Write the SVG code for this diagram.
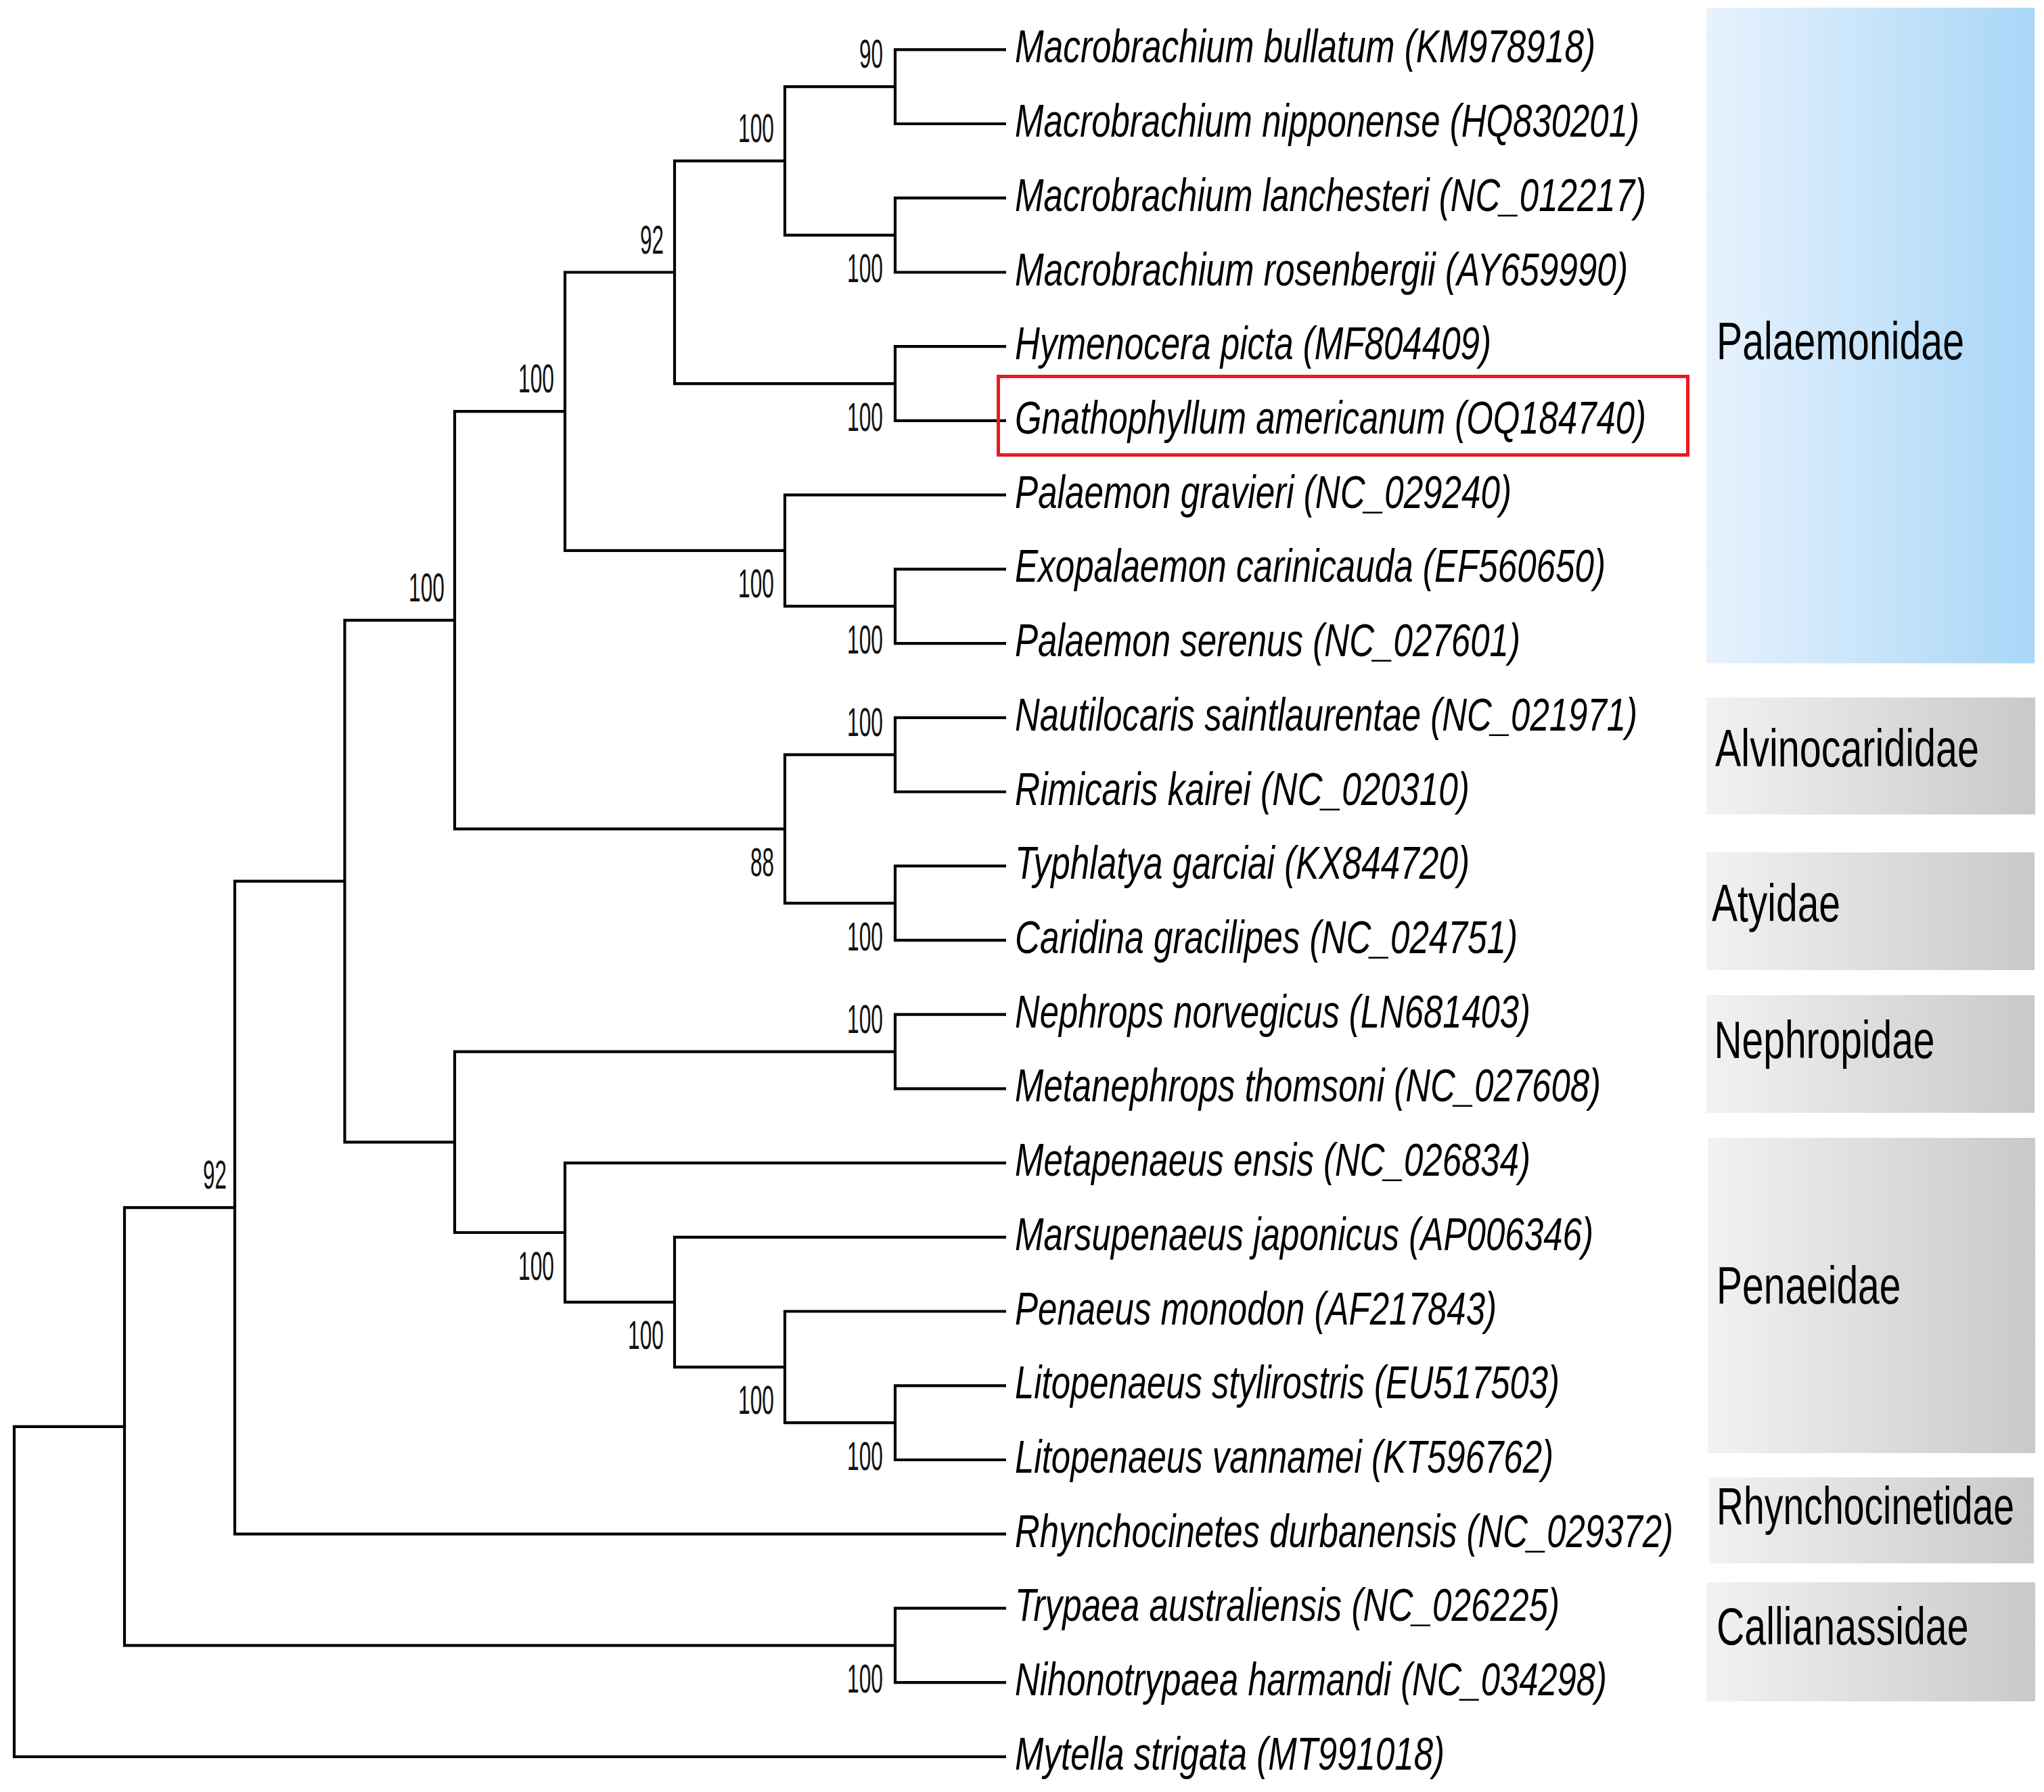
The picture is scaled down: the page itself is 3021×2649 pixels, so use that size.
<svg xmlns="http://www.w3.org/2000/svg" width="3021" height="2649" viewBox="0 0 3021 2649">
<defs>
<linearGradient id="gBlue" x1="0" y1="0" x2="1" y2="0">
<stop offset="0" stop-color="#e7f2fd"/>
<stop offset="1" stop-color="#a9d6f7"/>
</linearGradient>
<linearGradient id="gGray" x1="0" y1="0" x2="1" y2="0">
<stop offset="0" stop-color="#f2f2f2"/>
<stop offset="1" stop-color="#c9c9c9"/>
</linearGradient>
<style>
.br{fill:none;stroke:#000;stroke-width:4.2;stroke-linejoin:miter;stroke-linecap:butt}
.tx{font-family:"Liberation Sans",Arial,sans-serif;font-style:italic;font-size:51px;fill:#000}
.bs{font-family:"Liberation Sans",Arial,sans-serif;font-size:32px;fill:#111;text-anchor:end}
.fam{font-family:"Liberation Sans",Arial,sans-serif;font-size:57px;fill:#000}
.hl{fill:none;stroke:#ea1a20;stroke-width:5}
</style>
</defs>
<rect width="3021" height="2649" fill="#fff"/>

<g id="connectors">
<path class="br" d="M184 2108.8 H21 V2596.9 H1487"/>
<path class="br" d="M347 1785.2 H184 V2432.3 H1323"/>
<path class="br" d="M509.5 1302.6 H347 V2267.7 H1487"/>
<path class="br" d="M672 916.8 H509.5 V1688.3 H672"/>
<path class="br" d="M835 608.2 H672 V1225.4 H1160"/>
<path class="br" d="M997 402.5 H835 V813.9 H1160"/>
<path class="br" d="M1160 237.9 H997 V567.1 H1323"/>
<path class="br" d="M1323 128.2 H1160 V347.6 H1323"/>
<path class="br" d="M1487 73.3 H1323 V183.0 H1487"/>
<path class="br" d="M1487 292.7 H1323 V402.5 H1487"/>
<path class="br" d="M1487 512.2 H1323 V621.9 H1487"/>
<path class="br" d="M1487 731.6 H1160 V896.2 H1323"/>
<path class="br" d="M1487 841.3 H1323 V951.1 H1487"/>
<path class="br" d="M1323 1115.7 H1160 V1335.1 H1323"/>
<path class="br" d="M1487 1060.8 H1323 V1170.5 H1487"/>
<path class="br" d="M1487 1280.2 H1323 V1389.9 H1487"/>
<path class="br" d="M1323 1554.6 H672 V1822.0 H835"/>
<path class="br" d="M1487 1499.7 H1323 V1609.4 H1487"/>
<path class="br" d="M1487 1719.1 H835 V1924.9 H997"/>
<path class="br" d="M1487 1828.8 H997 V2020.9 H1160"/>
<path class="br" d="M1487 1938.5 H1160 V2103.2 H1323"/>
<path class="br" d="M1487 2048.3 H1323 V2158.0 H1487"/>
<path class="br" d="M1487 2377.4 H1323 V2487.1 H1487"/>
</g>

<g id="bootstrap">
<text class="bs" transform="translate(1305 100.2) scale(1 1.83)" textLength="35" lengthAdjust="spacingAndGlyphs">90</text>
<text class="bs" transform="translate(1144 209.9) scale(1 1.83)" textLength="53" lengthAdjust="spacingAndGlyphs">100</text>
<text class="bs" transform="translate(1305 417.1) scale(1 1.83)" textLength="53" lengthAdjust="spacingAndGlyphs">100</text>
<text class="bs" transform="translate(981 374.5) scale(1 1.83)" textLength="35" lengthAdjust="spacingAndGlyphs">92</text>
<text class="bs" transform="translate(1305 636.6) scale(1 1.83)" textLength="53" lengthAdjust="spacingAndGlyphs">100</text>
<text class="bs" transform="translate(819 580.2) scale(1 1.83)" textLength="53" lengthAdjust="spacingAndGlyphs">100</text>
<text class="bs" transform="translate(1144 883.4) scale(1 1.83)" textLength="53" lengthAdjust="spacingAndGlyphs">100</text>
<text class="bs" transform="translate(1305 965.7) scale(1 1.83)" textLength="53" lengthAdjust="spacingAndGlyphs">100</text>
<text class="bs" transform="translate(657 888.8) scale(1 1.83)" textLength="53" lengthAdjust="spacingAndGlyphs">100</text>
<text class="bs" transform="translate(1305 1087.7) scale(1 1.83)" textLength="53" lengthAdjust="spacingAndGlyphs">100</text>
<text class="bs" transform="translate(1305 1404.6) scale(1 1.83)" textLength="53" lengthAdjust="spacingAndGlyphs">100</text>
<text class="bs" transform="translate(1144 1294.9) scale(1 1.83)" textLength="35" lengthAdjust="spacingAndGlyphs">88</text>
<text class="bs" transform="translate(1305 1526.6) scale(1 1.83)" textLength="53" lengthAdjust="spacingAndGlyphs">100</text>
<text class="bs" transform="translate(819 1891.5) scale(1 1.83)" textLength="53" lengthAdjust="spacingAndGlyphs">100</text>
<text class="bs" transform="translate(981 1994.4) scale(1 1.83)" textLength="53" lengthAdjust="spacingAndGlyphs">100</text>
<text class="bs" transform="translate(1144 2090.4) scale(1 1.83)" textLength="53" lengthAdjust="spacingAndGlyphs">100</text>
<text class="bs" transform="translate(1305 2172.7) scale(1 1.83)" textLength="53" lengthAdjust="spacingAndGlyphs">100</text>
<text class="bs" transform="translate(335 1757.2) scale(1 1.83)" textLength="35" lengthAdjust="spacingAndGlyphs">92</text>
<text class="bs" transform="translate(1305 2501.8) scale(1 1.83)" textLength="53" lengthAdjust="spacingAndGlyphs">100</text>
</g>

<g id="taxa">
<g id="t1"><text class="tx" transform="translate(1500 92.3) scale(1 1.34)" textLength="858" lengthAdjust="spacingAndGlyphs">Macrobrachium bullatum (KM978918)</text></g>
<g id="t2"><text class="tx" transform="translate(1500 202.0) scale(1 1.34)" textLength="923" lengthAdjust="spacingAndGlyphs">Macrobrachium nipponense (HQ830201)</text></g>
<g id="t3"><text class="tx" transform="translate(1500 311.7) scale(1 1.34)" textLength="933" lengthAdjust="spacingAndGlyphs">Macrobrachium lanchesteri (NC_012217)</text></g>
<g id="t4"><text class="tx" transform="translate(1500 421.5) scale(1 1.34)" textLength="906" lengthAdjust="spacingAndGlyphs">Macrobrachium rosenbergii (AY659990)</text></g>
<g id="t5"><text class="tx" transform="translate(1500 531.2) scale(1 1.34)" textLength="704" lengthAdjust="spacingAndGlyphs">Hymenocera picta (MF804409)</text></g>
<g id="t6"><text class="tx" transform="translate(1500 640.9) scale(1 1.34)" textLength="933" lengthAdjust="spacingAndGlyphs">Gnathophyllum americanum (OQ184740)</text>
<rect class="hl" x="1475.5" y="556.5" width="1019" height="116"/></g>
<g id="t7"><text class="tx" transform="translate(1500 750.6) scale(1 1.34)" textLength="734" lengthAdjust="spacingAndGlyphs">Palaemon gravieri (NC_029240)</text></g>
<g id="t8"><text class="tx" transform="translate(1500 860.3) scale(1 1.34)" textLength="873" lengthAdjust="spacingAndGlyphs">Exopalaemon carinicauda (EF560650)</text></g>
<g id="t9"><text class="tx" transform="translate(1500 970.1) scale(1 1.34)" textLength="747" lengthAdjust="spacingAndGlyphs">Palaemon serenus (NC_027601)</text></g>
<g id="t10"><text class="tx" transform="translate(1500 1079.8) scale(1 1.34)" textLength="920" lengthAdjust="spacingAndGlyphs">Nautilocaris saintlaurentae (NC_021971)</text></g>
<g id="t11"><text class="tx" transform="translate(1500 1189.5) scale(1 1.34)" textLength="672" lengthAdjust="spacingAndGlyphs">Rimicaris kairei (NC_020310)</text></g>
<g id="t12"><text class="tx" transform="translate(1500 1299.2) scale(1 1.34)" textLength="672" lengthAdjust="spacingAndGlyphs">Typhlatya garciai (KX844720)</text></g>
<g id="t13"><text class="tx" transform="translate(1500 1408.9) scale(1 1.34)" textLength="743" lengthAdjust="spacingAndGlyphs">Caridina gracilipes (NC_024751)</text></g>
<g id="t14"><text class="tx" transform="translate(1500 1518.7) scale(1 1.34)" textLength="762" lengthAdjust="spacingAndGlyphs">Nephrops norvegicus (LN681403)</text></g>
<g id="t15"><text class="tx" transform="translate(1500 1628.4) scale(1 1.34)" textLength="866" lengthAdjust="spacingAndGlyphs">Metanephrops thomsoni (NC_027608)</text></g>
<g id="t16"><text class="tx" transform="translate(1500 1738.1) scale(1 1.34)" textLength="762" lengthAdjust="spacingAndGlyphs">Metapenaeus ensis (NC_026834)</text></g>
<g id="t17"><text class="tx" transform="translate(1500 1847.8) scale(1 1.34)" textLength="855" lengthAdjust="spacingAndGlyphs">Marsupenaeus japonicus (AP006346)</text></g>
<g id="t18"><text class="tx" transform="translate(1500 1957.5) scale(1 1.34)" textLength="712" lengthAdjust="spacingAndGlyphs">Penaeus monodon (AF217843)</text></g>
<g id="t19"><text class="tx" transform="translate(1500 2067.3) scale(1 1.34)" textLength="805" lengthAdjust="spacingAndGlyphs">Litopenaeus stylirostris (EU517503)</text></g>
<g id="t20"><text class="tx" transform="translate(1500 2177.0) scale(1 1.34)" textLength="796" lengthAdjust="spacingAndGlyphs">Litopenaeus vannamei (KT596762)</text></g>
<g id="t21"><text class="tx" transform="translate(1500 2286.7) scale(1 1.34)" textLength="973" lengthAdjust="spacingAndGlyphs">Rhynchocinetes durbanensis (NC_029372)</text></g>
<g id="t22"><text class="tx" transform="translate(1500 2396.4) scale(1 1.34)" textLength="805" lengthAdjust="spacingAndGlyphs">Trypaea australiensis (NC_026225)</text></g>
<g id="t23"><text class="tx" transform="translate(1500 2506.1) scale(1 1.34)" textLength="875" lengthAdjust="spacingAndGlyphs">Nihonotrypaea harmandi (NC_034298)</text></g>
<g id="t24"><text class="tx" transform="translate(1500 2615.9) scale(1 1.34)" textLength="635" lengthAdjust="spacingAndGlyphs">Mytella strigata (MT991018)</text></g>
</g>

<g id="families">
<g id="f-palaemonidae"><rect x="2522" y="11.5" width="485" height="969" fill="url(#gBlue)"/>
<text class="fam" transform="translate(2537 530.6) scale(1 1.36)" textLength="366" lengthAdjust="spacingAndGlyphs">Palaemonidae</text></g>
<g id="f-alvinocarididae"><rect x="2522" y="1031" width="486" height="173" fill="url(#gGray)"/>
<text class="fam" transform="translate(2535 1132.7) scale(1 1.36)" textLength="390" lengthAdjust="spacingAndGlyphs">Alvinocarididae</text></g>
<g id="f-atyidae"><rect x="2522" y="1260" width="485" height="174" fill="url(#gGray)"/>
<text class="fam" transform="translate(2530 1362) scale(1 1.36)" textLength="190" lengthAdjust="spacingAndGlyphs">Atyidae</text></g>
<g id="f-nephropidae"><rect x="2522" y="1471" width="485" height="174" fill="url(#gGray)"/>
<text class="fam" transform="translate(2533.5 1564) scale(1 1.36)" textLength="326" lengthAdjust="spacingAndGlyphs">Nephropidae</text></g>
<g id="f-penaeidae"><rect x="2524" y="1682" width="484" height="466" fill="url(#gGray)"/>
<text class="fam" transform="translate(2537 1926.5) scale(1 1.36)" textLength="272.5" lengthAdjust="spacingAndGlyphs">Penaeidae</text></g>
<g id="f-rhynchocinetidae"><rect x="2526" y="2184" width="480" height="127" fill="url(#gGray)"/>
<text class="fam" transform="translate(2537 2253) scale(1 1.36)" textLength="440" lengthAdjust="spacingAndGlyphs">Rhynchocinetidae</text></g>
<g id="f-callianassidae"><rect x="2522" y="2339" width="486" height="176" fill="url(#gGray)"/>
<text class="fam" transform="translate(2537 2430.6) scale(1 1.36)" textLength="372.6" lengthAdjust="spacingAndGlyphs">Callianassidae</text></g>
</g>
</svg>
